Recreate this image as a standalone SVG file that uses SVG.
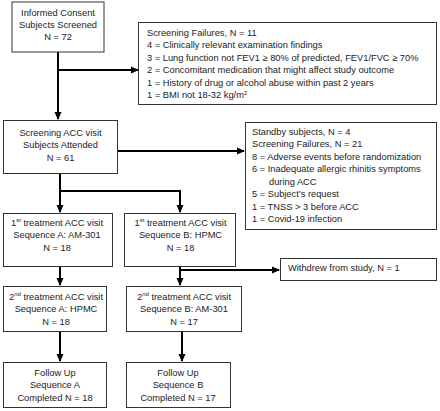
<svg xmlns="http://www.w3.org/2000/svg" width="440" height="411" viewBox="0 0 440 411">
<defs>
<marker id="ah" markerUnits="userSpaceOnUse" markerWidth="8" markerHeight="8" viewBox="0 0 8 8" refX="7" refY="4" orient="auto">
<path d="M0,0.5 L8,4 L0,7.5 Z" fill="#000"/>
</marker>
<style>
rect{fill:#fff;stroke:#333;stroke-width:1}
text{font-family:"Liberation Sans",Arial,sans-serif;font-size:9.3px;fill:#222}
.c{text-anchor:middle}
.con path{fill:none;stroke:#000;stroke-width:2}
.a{marker-end:url(#ah)}
.sup{font-size:6px}
</style>
</defs>
<rect x="0" y="0" width="440" height="411" style="fill:#fff;stroke:none"/>
<g class="con">
<path class="a" d="M58,52 V119"/>
<path class="a" d="M58,70 H138"/>
<path class="a" d="M118,151 H244"/>
<path class="a" d="M60,174 V212"/>
<path class="a" d="M60,191 H180 V212"/>
<path class="a" d="M180,267 V285"/>
<path class="a" d="M180,270 H279"/>
<path class="a" d="M60,267 V285"/>
<path class="a" d="M60,332 V361"/>
<path class="a" d="M182,331 V361"/>
</g>
<g id="consent">
<rect x="12" y="2" width="92" height="50"/>
<text class="c" x="58" y="15.5">Informed Consent</text>
<text class="c" x="58" y="27.5">Subjects Screened</text>
<text class="c" x="58" y="39.5">N = 72</text>
</g>
<g id="fail1">
<rect x="138.5" y="22.5" width="298" height="82"/>
<text x="147" y="35.5">Screening Failures, N = 11</text>
<text x="147" y="48">4 = Clinically relevant examination findings</text>
<text x="147" y="60.5">3 = Lung function not FEV1 ≥ 80% of predicted, FEV1/FVC ≥ 70%</text>
<text x="147" y="73">2 = Concomitant medication that might affect study outcome</text>
<text x="147" y="85.5">1 = History of drug or alcohol abuse within past 2 years</text>
<text x="147" y="98">1 = BMI not 18-32 kg/m<tspan class="sup" dy="-3.5">2</tspan></text>
</g>
<g id="screening">
<rect x="3.5" y="120.5" width="114" height="53"/>
<text class="c" x="60.5" y="135.5">Screening ACC visit</text>
<text class="c" x="60.5" y="148">Subjects Attended</text>
<text class="c" x="60.5" y="160.5">N = 61</text>
</g>
<g id="standby">
<rect x="245.5" y="122.5" width="191" height="107"/>
<text x="252" y="134.5">Standby subjects, N = 4</text>
<text x="252" y="147">Screening Failures, N = 21</text>
<text x="252" y="159.5">8 = Adverse events before randomization</text>
<text x="252" y="172">6 = Inadequate allergic rhinitis symptoms</text>
<text x="269" y="184.5">during ACC</text>
<text x="252" y="197">5 = Subject’s request</text>
<text x="252" y="209.5">1 = TNSS &gt; 3 before ACC</text>
<text x="252" y="222">1 = Covid-19 infection</text>
</g>
<g id="t1a">
<rect x="3.5" y="213.5" width="109" height="53"/>
<text class="c" x="57" y="225.5">1<tspan class="sup" dy="-3.5">st</tspan><tspan dy="3.5"> treatment ACC visit</tspan></text>
<text class="c" x="57" y="238">Sequence A: AM-301</text>
<text class="c" x="57" y="250.5">N = 18</text>
</g>
<g id="t1b">
<rect x="124.5" y="213.5" width="111" height="53"/>
<text class="c" x="180.5" y="225.5">1<tspan class="sup" dy="-3.5">st</tspan><tspan dy="3.5"> treatment ACC visit</tspan></text>
<text class="c" x="180.5" y="238">Sequence B: HPMC</text>
<text class="c" x="180.5" y="250.5">N = 18</text>
</g>
<g id="withdrew">
<rect x="280.5" y="258.5" width="156" height="22"/>
<text x="288" y="270.5">Withdrew from study, N = 1</text>
</g>
<g id="t2a">
<rect x="3.5" y="286.5" width="103" height="45"/>
<text class="c" x="56" y="299.5">2<tspan class="sup" dy="-3.5">nd</tspan><tspan dy="3.5"> treatment ACC visit</tspan></text>
<text class="c" x="56" y="312">Sequence A: HPMC</text>
<text class="c" x="56" y="324.5">N = 18</text>
</g>
<g id="t2b">
<rect x="126.5" y="286.5" width="115" height="45"/>
<text class="c" x="184" y="299.5">2<tspan class="sup" dy="-3.5">nd</tspan><tspan dy="3.5"> treatment ACC visit</tspan></text>
<text class="c" x="184" y="312">Sequence B: AM-301</text>
<text class="c" x="184" y="324.5">N = 17</text>
</g>
<g id="fua">
<rect x="3.5" y="362.5" width="103" height="45"/>
<text class="c" x="55" y="375.5">Follow Up</text>
<text class="c" x="55" y="388">Sequence A</text>
<text class="c" x="55" y="400.5">Completed N = 18</text>
</g>
<g id="fub">
<rect x="126.5" y="362.5" width="104" height="45"/>
<text class="c" x="178" y="375.5">Follow Up</text>
<text class="c" x="178" y="388">Sequence B</text>
<text class="c" x="178" y="400.5">Completed N = 17</text>
</g>
</svg>
